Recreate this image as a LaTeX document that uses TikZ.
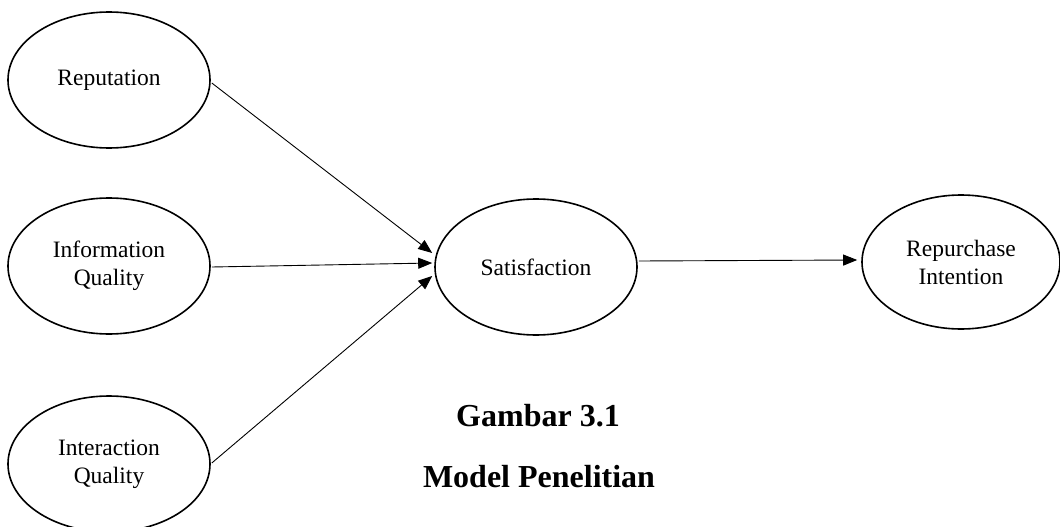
\documentclass[tikz,border=0pt]{standalone}
\usepackage{fontspec}
\setmainfont{Liberation Serif}
\usetikzlibrary{shapes.geometric,arrows.meta,calc}
\begin{document}
\begin{tikzpicture}[x=1pt,y=-1pt,
  construct/.style={ellipse,draw,line width=1.6pt,minimum width=202pt,minimum height=136pt,inner sep=0pt,align=center,font=\fontsize{23.5}{28}\selectfont},
  link/.style={line width=0.9pt,-{Triangle[length=14pt,width=11pt]}},
  caption/.style={font=\fontsize{32}{38}\selectfont\bfseries}]
\useasboundingbox (0,0) rectangle (1060,527);
\node[construct] (rep) at (109,80) {Reputation};
\node[construct] (info) at (109,266) {Information\\Quality};
\node[construct] (inter) at (109,464) {Interaction\\Quality};
\node[construct] (sat) at (536,267) {Satisfaction};
\node[construct,minimum width=198pt,minimum height=134pt] (rpi) at (961,262) {Repurchase\\Intention};
\coordinate (t1) at ($(sat.west)+(-2,-14)$);
\coordinate (t2) at ($(sat.west)+(-2,-4)$);
\coordinate (t3) at ($(sat.west)+(-2,9)$);
\coordinate (t4) at ($(rpi.west)+(-4,-2)$);
\draw[link] ($(rep.east)+(1,3)$) -- (t1);
\draw[link] ($(info.east)+(1,1)$) -- (t2);
\draw[link] ($(inter.east)+(1,-1)$) -- (t3);
\draw[link] ($(sat.east)+(1,-6)$) -- (t4);
\node[caption] (cap1) at (538,416) {Gambar 3.1};
\node[caption] (cap2) at (539,477) {Model Penelitian};
\end{tikzpicture}
\end{document}
